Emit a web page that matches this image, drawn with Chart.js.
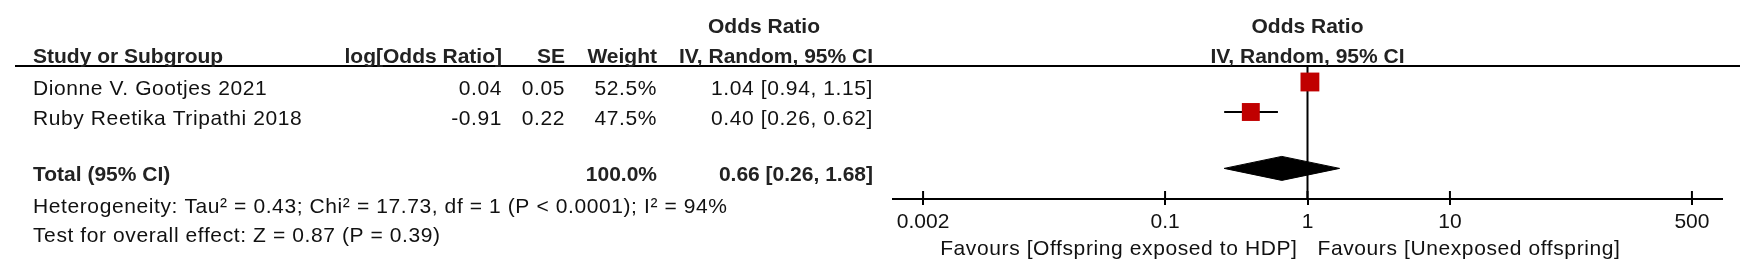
<!DOCTYPE html>
<html><head><meta charset="utf-8">
<script src="https://cdn.jsdelivr.net/npm/chart.js@4.4.0/dist/chart.umd.min.js"></script>
<style>html,body{margin:0;padding:0;background:#fff;overflow:hidden}canvas{display:block}</style>
</head><body>
<canvas id="c" width="1752" height="272"></canvas>
<script>
// ---- data ----
const studies = ["Dionne V. Gootjes 2021", "Ruby Reetika Tripathi 2018"];
const logOR = [0.04, -0.91];
const se = [0.05, 0.22];
const weights = [52.5, 47.5];
const oddsRatio = [1.04, 0.40];
const ciLow = [0.94, 0.26];
const ciHigh = [1.15, 0.62];
const totalWeight = 100.0;
const totalOR = 0.66;
const totalLow = 0.26;
const totalHigh = 1.68;
const heterogeneityText = "Heterogeneity: Tau\u00b2 = 0.43; Chi\u00b2 = 17.73, df = 1 (P < 0.0001); I\u00b2 = 94%";
const overallText = "Test for overall effect: Z = 0.87 (P = 0.39)";
const xTickValues = [0.002, 0.1, 1, 10, 500];
const xTickLabels = ["0.002", "0.1", "1", "10", "500"];
const favoursLeft = "Favours [Offspring exposed to HDP]";
const favoursRight = "Favours [Unexposed offspring]";
const headerTop = "Odds Ratio";
const headerCols = ["Study or Subgroup", "log[Odds Ratio]", "SE", "Weight", "IV, Random, 95% CI"];
const totalLabel = "Total (95% CI)";

// ---- layout / style ----
const FONT = "'Liberation Sans', Arial, sans-serif";
const TOTAL_ROW = 2.88;
const HET_ROW = 3.92;
const OVERALL_ROW = 4.89;
const HEAD1_ROW = -2.07;
const HEAD2_ROW = -1.07;
const TEXT_OFF = 13;
const COL = {name: 33, logor: 502, se: 565, weight: 657, ci: 873, orHead: 764};

function fmtCI(o, l, h) { return o.toFixed(2) + " [" + l.toFixed(2) + ", " + h.toFixed(2) + "]"; }

function txt(ctx, s, x, y, align, bold) {
  ctx.font = (bold ? 'bold ' : '') + '21px ' + FONT;
  ctx.fillStyle = bold ? '#222' : '#111';
  ctx.textAlign = align;
  ctx.textBaseline = 'alphabetic';
  try { ctx.letterSpacing = bold ? '0px' : '0.6px'; } catch (e) {}
  ctx.fillText(s, x, y);
  try { ctx.letterSpacing = '0px'; } catch (e) {}
}

const tablePlugin = {
  id: 'forestTable',
  beforeDatasetsDraw(chart) {
    const ctx = chart.ctx, xs = chart.scales.x, ca = chart.chartArea;
    ctx.save();
    ctx.strokeStyle = '#000';
    ctx.lineWidth = 2;
    // header rule
    ctx.beginPath(); ctx.moveTo(15, ca.top); ctx.lineTo(1740, ca.top); ctx.stroke();
    // line of no effect
    const x1 = xs.getPixelForValue(1);
    ctx.beginPath(); ctx.moveTo(x1, ca.top); ctx.lineTo(x1, ca.bottom); ctx.stroke();
    // upper half of tick marks
    xTickValues.forEach(v => {
      const px = xs.getPixelForValue(v);
      ctx.beginPath(); ctx.moveTo(px, ca.bottom - 8); ctx.lineTo(px, ca.bottom); ctx.stroke();
    });
    ctx.restore();
  },
  afterDraw(chart) {
    const ctx = chart.ctx, xs = chart.scales.x, ys = chart.scales.y, ca = chart.chartArea;
    const rowY = r => ys.getPixelForValue(r) + TEXT_OFF;
    const x1 = xs.getPixelForValue(1);
    ctx.save();
    // headers
    txt(ctx, headerTop, COL.orHead, rowY(HEAD1_ROW), 'center', true);
    txt(ctx, headerTop, x1, rowY(HEAD1_ROW), 'center', true);
    txt(ctx, headerCols[0], COL.name, rowY(HEAD2_ROW), 'left', true);
    txt(ctx, headerCols[1], COL.logor, rowY(HEAD2_ROW), 'right', true);
    txt(ctx, headerCols[2], COL.se, rowY(HEAD2_ROW), 'right', true);
    txt(ctx, headerCols[3], COL.weight, rowY(HEAD2_ROW), 'right', true);
    txt(ctx, headerCols[4], COL.ci, rowY(HEAD2_ROW), 'right', true);
    txt(ctx, headerCols[4], x1, rowY(HEAD2_ROW), 'center', true);
    // study rows
    studies.forEach((s, i) => {
      const y = rowY(i);
      txt(ctx, s, COL.name, y, 'left', false);
      txt(ctx, logOR[i].toFixed(2), COL.logor, y, 'right', false);
      txt(ctx, se[i].toFixed(2), COL.se, y, 'right', false);
      txt(ctx, weights[i].toFixed(1) + "%", COL.weight, y, 'right', false);
      txt(ctx, fmtCI(oddsRatio[i], ciLow[i], ciHigh[i]), COL.ci, y, 'right', false);
    });
    // total
    const yt = rowY(TOTAL_ROW);
    txt(ctx, totalLabel, COL.name, yt, 'left', true);
    txt(ctx, totalWeight.toFixed(1) + "%", COL.weight, yt, 'right', true);
    txt(ctx, fmtCI(totalOR, totalLow, totalHigh), COL.ci, yt, 'right', true);
    txt(ctx, heterogeneityText, COL.name, rowY(HET_ROW), 'left', false);
    txt(ctx, overallText, COL.name, rowY(OVERALL_ROW), 'left', false);
    // favours
    txt(ctx, favoursLeft, x1 - 10, ca.bottom + 56, 'right', false);
    txt(ctx, favoursRight, x1 + 10, ca.bottom + 56, 'left', false);
    ctx.restore();
  }
};

const DIAMOND_H = 0.4; // half height in row units
const datasets = [];
datasets.push({
  type: 'scatter',
  label: 'Studies',
  data: studies.map((s, i) => ({x: oddsRatio[i], y: i})),
  pointStyle: 'rect',
  backgroundColor: '#C00000',
  borderWidth: 0,
  pointRadius: ctx => 13 * Math.sqrt((weights[ctx.dataIndex] || 50) / 50),
  pointHoverRadius: ctx => 13 * Math.sqrt((weights[ctx.dataIndex] || 50) / 50),
  order: 0
});
studies.forEach((s, i) => {
  datasets.push({
    type: 'line',
    label: 'CI ' + s,
    data: [{x: ciLow[i], y: i}, {x: ciHigh[i], y: i}],
    borderColor: '#000',
    borderWidth: 2,
    pointRadius: 0,
    fill: false,
    order: 2
  });
});
datasets.push({
  type: 'line',
  label: 'Total',
  data: [
    {x: totalLow, y: TOTAL_ROW},
    {x: totalOR, y: TOTAL_ROW - DIAMOND_H},
    {x: totalHigh, y: TOTAL_ROW},
    {x: totalOR, y: TOTAL_ROW + DIAMOND_H},
    {x: totalLow, y: TOTAL_ROW}
  ],
  borderColor: '#000',
  backgroundColor: '#000',
  borderWidth: 1,
  pointRadius: 0,
  tension: 0,
  fill: 'shape',
  order: 1
});

new Chart(document.getElementById('c'), {
  data: {datasets},
  options: {
    responsive: false,
    animation: false,
    devicePixelRatio: 1,
    layout: {padding: {left: 893, right: 30, top: 66, bottom: 0}},
    plugins: {legend: {display: false}, tooltip: {enabled: false}},
    scales: {
      x: {
        type: 'logarithmic',
        position: 'bottom',
        min: 0.00123,
        max: 813,
        afterBuildTicks: s => { s.ticks = xTickValues.map(v => ({value: v})); },
        afterFit: s => { s.height = 73; },
        ticks: {
          autoSkip: false,
          maxRotation: 0,
          color: '#111',
          padding: 5,
          font: {family: FONT, size: 21},
          callback: (v, i) => xTickLabels[i]
        },
        grid: {display: true, drawOnChartArea: false, drawTicks: true, tickLength: 6, color: '#000', lineWidth: 2},
        border: {display: true, color: '#000', width: 2}
      },
      y: {
        type: 'linear',
        display: false,
        reverse: true,
        min: -0.533,
        max: 3.9
      }
    }
  },
  plugins: [tablePlugin]
});
</script>
</body></html>
